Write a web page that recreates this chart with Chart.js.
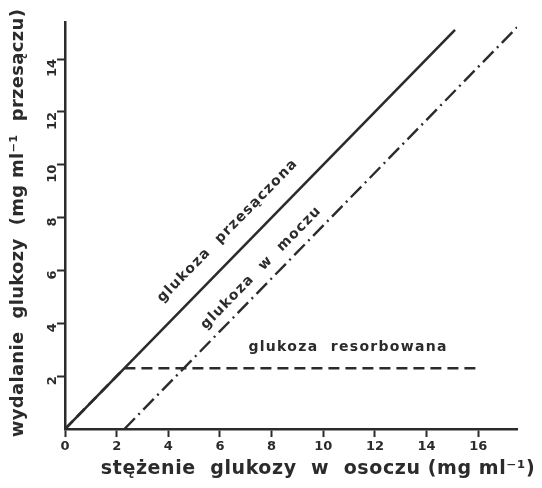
<!DOCTYPE html>
<html>
<head>
<meta charset="utf-8">
<script src="https://cdn.jsdelivr.net/npm/chart.js@4"></script>
<style>
  html, body { margin: 0; padding: 0; background: #ffffff; }
  #wrap { width: 542px; height: 488px; position: relative; }
</style>
</head>
<body>
<div id="wrap"><canvas id="c" width="542" height="488"></canvas></div>
<script>
// ---- data ----
const xTickValues = [0, 2, 4, 6, 8, 10, 12, 14, 16];
const yTickValues = [2, 4, 6, 8, 10, 12, 14];
const filteredX = [0, 15.1];
const filteredY = [0, 15.1];
const urineX = [2.3, 17.5];
const urineY = [0, 15.2];
const reabsorbedX = [0, 2.3, 16];
const reabsorbedY = [0, 2.3, 2.3];
const seriesLabels = ['glukoza  przesączona', 'glukoza  w  moczu', 'glukoza  resorbowana'];
const xTitle = 'stężenie  glukozy  w  osoczu (mg ml⁻¹)';
const yTitle = 'wydalanie  glukozy  (mg ml⁻¹  przesączu)';

const INK = '#2b2b2b';
const pts = (xs, ys) => xs.map((x, i) => ({ x: x, y: ys[i] }));

const annotations = [
  { text: seriesLabels[0], x: 6.3, y: 7.5, angle: -45.6 },
  { text: seriesLabels[1], x: 7.6, y: 6.1, angle: -45.6 },
  { text: seriesLabels[2], x: 10.96, y: 3.1, angle: 0 }
];

const textPlugin = {
  id: 'texts',
  afterDraw(chart) {
    const ctx = chart.ctx;
    const xs = chart.scales.x, ys = chart.scales.y;
    ctx.save();
    ctx.fillStyle = INK;
    ctx.textAlign = 'center';
    ctx.textBaseline = 'middle';
    ctx.font = 'bold 14px "DejaVu Sans"';
    try { ctx.letterSpacing = '1.3px'; } catch (e) {}
    annotations.forEach(a => {
      ctx.save();
      ctx.translate(xs.getPixelForValue(a.x), ys.getPixelForValue(a.y));
      ctx.rotate(a.angle * Math.PI / 180);
      ctx.fillText(a.text, 0, 0);
      ctx.restore();
    });
    // axis titles
    ctx.font = 'bold 19px "DejaVu Sans"';
    try { ctx.letterSpacing = '0.6px'; } catch (e) {}
    ctx.fillText(xTitle, 318, 469);
    ctx.font = 'bold 18px "DejaVu Sans"';
    try { ctx.letterSpacing = '0.3px'; } catch (e) {}
    ctx.save();
    ctx.translate(18, 223);
    ctx.rotate(-Math.PI / 2);
    ctx.fillText(yTitle, 0, 0);
    ctx.restore();
    ctx.restore();
  }
};

const axisCommon = {
  type: 'linear',
  border: { display: true, color: INK, width: 2.5 },
  grid: { drawOnChartArea: false, drawTicks: true, tickLength: 8, tickWidth: 2, tickColor: INK, color: INK }
};

new Chart(document.getElementById('c'), {
  type: 'line',
  data: {
    datasets: [
      { label: seriesLabels[0], data: pts(filteredX, filteredY), borderColor: INK, borderWidth: 2.6, pointRadius: 0, fill: false, tension: 0 },
      { label: seriesLabels[1], data: pts(urineX, urineY), borderColor: INK, borderWidth: 2.4, borderDash: [15, 5, 2, 5], pointRadius: 0, fill: false, tension: 0 },
      { label: seriesLabels[2], data: pts(reabsorbedX, reabsorbedY), borderColor: INK, borderWidth: 2.6, borderDash: [11, 6], pointRadius: 0, fill: false, tension: 0 }
    ]
  },
  options: {
    responsive: false,
    animation: false,
    events: [],
    layout: { padding: { top: 22, right: 25, left: 0, bottom: 0 } },
    plugins: { legend: { display: false }, tooltip: { enabled: false }, title: { display: false } },
    scales: {
      x: Object.assign({}, axisCommon, {
        min: 0, max: 17.5,
        afterBuildTicks: s => { s.ticks = xTickValues.map(v => ({ value: v })); },
        afterFit: s => { s.height = 59; },
        ticks: { color: INK, font: { family: 'DejaVu Sans', size: 13, weight: 'bold' }, padding: 2, maxRotation: 0, minRotation: 0 }
      }),
      y: Object.assign({}, axisCommon, {
        min: 0, max: 15.4,
        afterBuildTicks: s => { s.ticks = yTickValues.map(v => ({ value: v })); },
        afterFit: s => { s.width = 65; },
        ticks: { color: INK, font: { family: 'DejaVu Sans', size: 13, weight: 'bold' }, padding: 4, minRotation: 90, maxRotation: 90 }
      })
    }
  },
  plugins: [textPlugin]
});
</script>
</body>
</html>
